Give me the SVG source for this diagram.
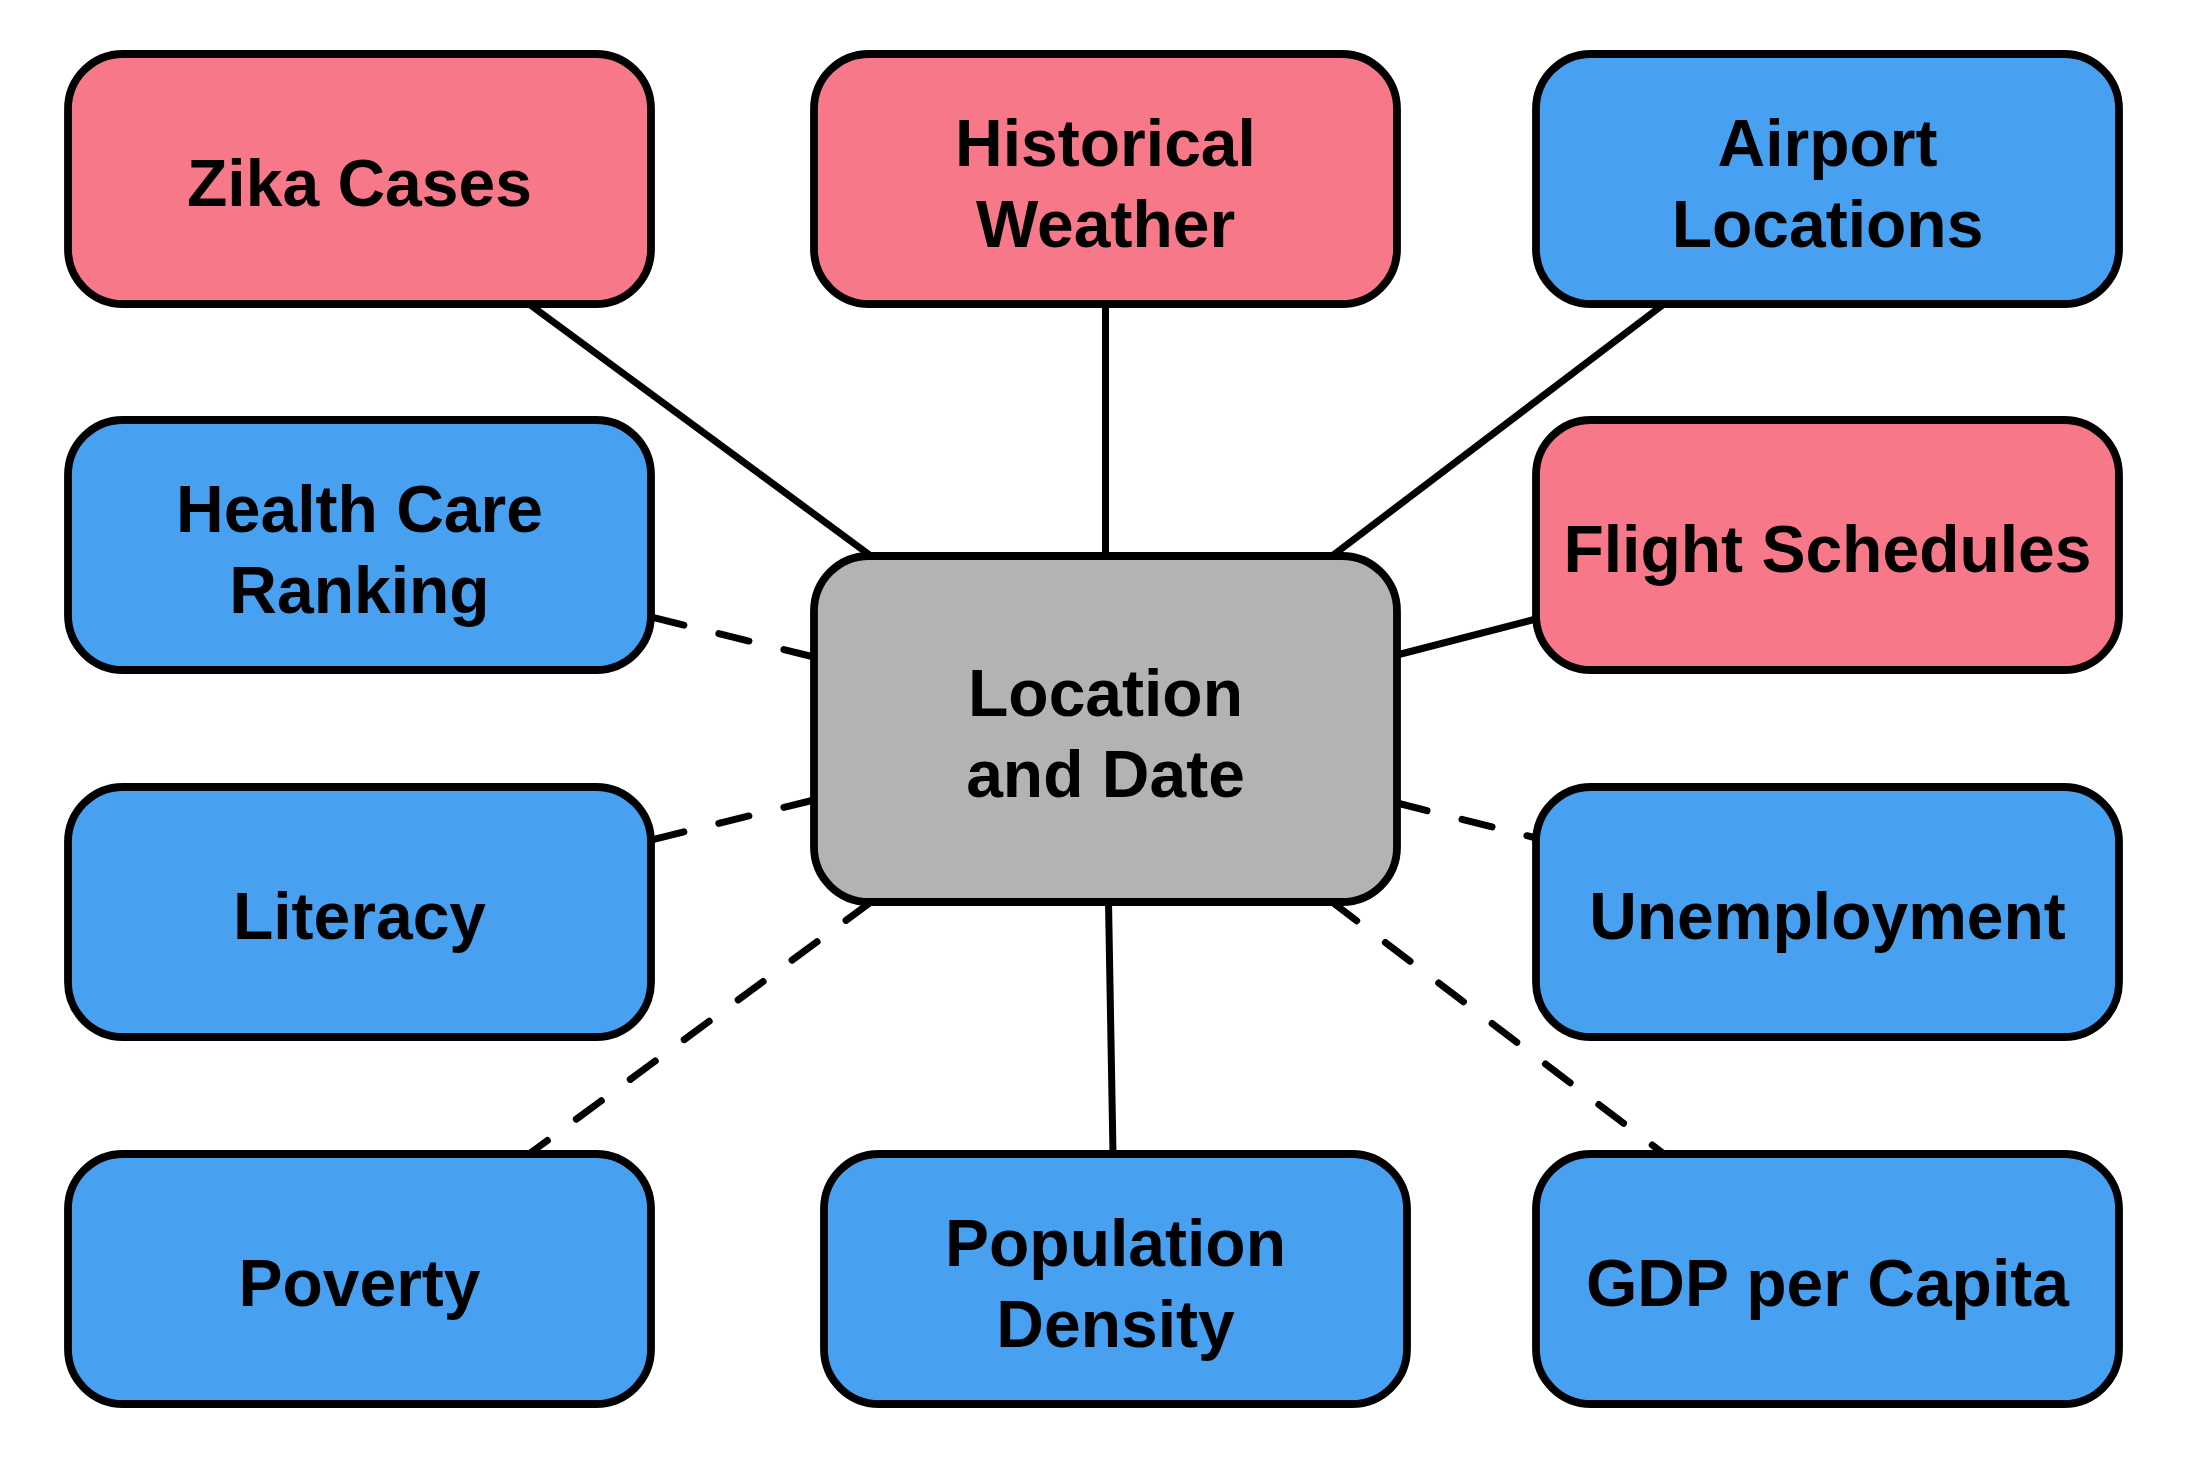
<svg xmlns="http://www.w3.org/2000/svg" width="2187" height="1458" viewBox="0 0 2187 1458">
<style>
  .box { stroke: #000; stroke-width: 7.8; }
  .red { fill: #F67889; }
  .blue { fill: #48A0F0; }
  .gray { fill: #B3B3B3; }
  .lbl { font-family: "Liberation Sans", Arial, Helvetica, sans-serif; font-weight: bold; font-size: 66px; fill: #000; text-anchor: middle; }
  .solid { stroke: #000; stroke-width: 7; fill: none; }
  .dash { stroke: #000; stroke-width: 7; fill: none; stroke-dasharray: 31 36; stroke-linecap: round; }
</style>
<rect width="2187" height="1458" fill="#fff"/>
<g id="connectors">
  <line class="solid" x1="871" y1="556" x2="529" y2="304"/>
  <line class="solid" x1="1105.5" y1="556" x2="1105.5" y2="304"/>
  <line class="solid" x1="1332" y1="556" x2="1664" y2="304"/>
  <line class="solid" x1="1397" y1="655" x2="1536" y2="619"/>
  <line class="solid" x1="1108.5" y1="902" x2="1113" y2="1154"/>
  <line class="dash" x1="814" y1="657" x2="651" y2="617"/>
  <line class="dash" x1="814" y1="800" x2="651" y2="840"/>
  <line class="dash" x1="871" y1="902" x2="529" y2="1154"/>
  <line class="dash" x1="1397" y1="803" x2="1536" y2="838"/>
  <line class="dash" x1="1332" y1="902" x2="1664" y2="1154"/>
</g>
<g id="zika">
  <rect class="box red" x="68" y="54" width="583" height="250" rx="55"/>
  <text class="lbl" x="359.5" y="206">Zika Cases</text>
</g>
<g id="historical-weather">
  <rect class="box red" x="814" y="54" width="583" height="250" rx="55"/>
  <text class="lbl" x="1105.5" y="165.5">Historical</text>
  <text class="lbl" x="1105.5" y="246.5">Weather</text>
</g>
<g id="airport-locations">
  <rect class="box blue" x="1536" y="54" width="583" height="250" rx="55"/>
  <text class="lbl" x="1827.5" y="165.5">Airport</text>
  <text class="lbl" x="1827.5" y="246.5">Locations</text>
</g>
<g id="health-care">
  <rect class="box blue" x="68" y="420" width="583" height="250" rx="55"/>
  <text class="lbl" x="359.5" y="531.5">Health Care</text>
  <text class="lbl" x="359.5" y="612.5">Ranking</text>
</g>
<g id="flight-schedules">
  <rect class="box red" x="1536" y="420" width="583" height="250" rx="55"/>
  <text class="lbl" x="1827.5" y="572">Flight Schedules</text>
</g>
<g id="location-date">
  <rect class="box gray" x="814" y="556" width="583" height="346" rx="55"/>
  <text class="lbl" x="1105.5" y="715.5">Location</text>
  <text class="lbl" x="1105.5" y="796.5">and Date</text>
</g>
<g id="literacy">
  <rect class="box blue" x="68" y="787" width="583" height="250" rx="55"/>
  <text class="lbl" x="359.5" y="939">Literacy</text>
</g>
<g id="unemployment">
  <rect class="box blue" x="1536" y="787" width="583" height="250" rx="55"/>
  <text class="lbl" x="1827.5" y="939">Unemployment</text>
</g>
<g id="poverty">
  <rect class="box blue" x="68" y="1154" width="583" height="250" rx="55"/>
  <text class="lbl" x="359.5" y="1306">Poverty</text>
</g>
<g id="population-density">
  <rect class="box blue" x="824" y="1154" width="583" height="250" rx="55"/>
  <text class="lbl" x="1115.5" y="1265.5">Population</text>
  <text class="lbl" x="1115.5" y="1346.5">Density</text>
</g>
<g id="gdp">
  <rect class="box blue" x="1536" y="1154" width="583" height="250" rx="55"/>
  <text class="lbl" x="1827.5" y="1306">GDP per Capita</text>
</g>
</svg>
